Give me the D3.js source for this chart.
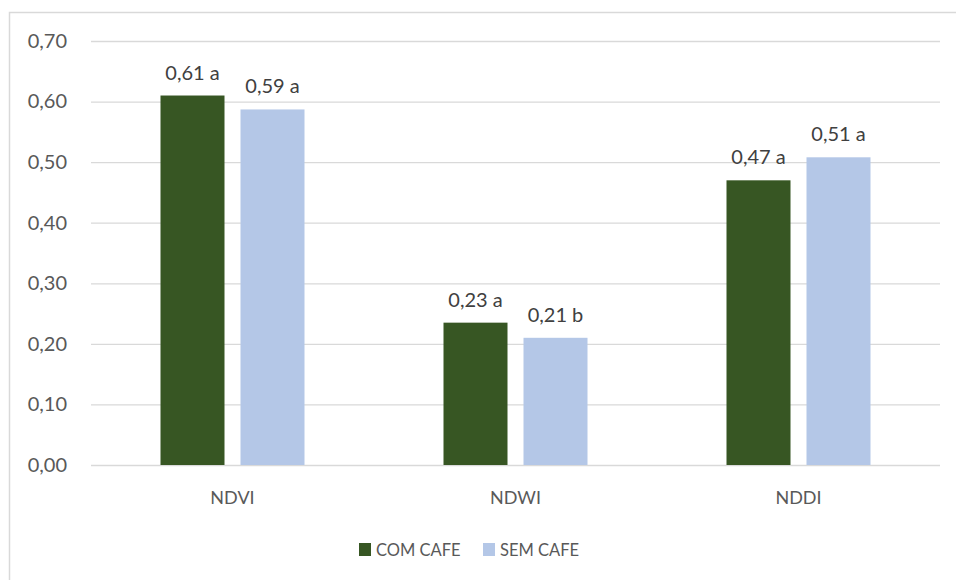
<!DOCTYPE html>
<html lang="pt">
<head>
    <meta charset="UTF-8">
    <title>Indices</title>
    <style>
        body { margin: 0; background: #fff; }
        text { font-family: Lato, "Open Sans", sans-serif; }
    </style>
</head>
<body>
    <script src="https://d3js.org/d3.v7.min.js"></script>
    <script>
        const width = 956;
        const height = 580;

        const categories = ["NDVI", "NDWI", "NDDI"];
        const seriesNames = ["COM CAFE", "SEM CAFE"];
        const comCafe = [0.61, 0.235, 0.47];
        const semCafe = [0.587, 0.21, 0.508];
        const comLabels = ["0,61 a", "0,23 a", "0,47 a"];
        const semLabels = ["0,59 a", "0,21 b", "0,51 a"];
        const yTicks = [0, 0.1, 0.2, 0.3, 0.4, 0.5, 0.6, 0.7];
        const colors = ["#375623", "#B4C7E7"];

        const margin = {top: 41, right: 16, bottom: 115, left: 91};

        const svg = d3.select("body")
            .append("svg")
            .attr("width", width)
            .attr("height", height);

        // chart frame
        svg.append("rect")
            .attr("x", 9.5)
            .attr("y", 12.5)
            .attr("width", width + 10)
            .attr("height", height + 10)
            .attr("fill", "none")
            .attr("stroke", "#D9D9D9")
            .attr("stroke-width", 1.5);

        const x0 = d3.scaleBand()
            .domain(categories)
            .range([margin.left, width - margin.right]);

        const x1 = d3.scaleBand()
            .domain(seriesNames)
            .range([0, 144])
            .paddingInner(0.2);

        const y = d3.scaleLinear()
            .domain([0, 0.7])
            .range([height - margin.bottom, margin.top]);

        const yAxis = d3.axisLeft(y)
            .tickValues(yTicks)
            .tickSize(-(width - margin.right - margin.left))
            .tickFormat(d => d3.format(".2f")(d).replace(".", ","));

        const gy = svg.append("g")
            .attr("transform", "translate(" + margin.left + ",0)")
            .call(yAxis);
        gy.select(".domain").remove();
        gy.selectAll(".tick line")
            .attr("stroke", "#D9D9D9")
            .attr("stroke-width", 1.3);
        gy.selectAll(".tick text")
            .attr("x", -24)
            .attr("fill", "#595959")
            .style("font-size", "20px");

        const rows = categories.map((c, i) => ({
            cat: c,
            vals: [
                {s: seriesNames[0], v: comCafe[i], lab: comLabels[i]},
                {s: seriesNames[1], v: semCafe[i], lab: semLabels[i]}
            ]
        }));

        const groups = svg.append("g")
            .selectAll("g")
            .data(rows)
            .enter()
            .append("g")
            .attr("transform", d => "translate(" + (x0(d.cat) + (x0.bandwidth() - 144) / 2) + ",0)");

        groups.selectAll("rect")
            .data(d => d.vals)
            .enter()
            .append("rect")
            .attr("x", d => x1(d.s))
            .attr("width", x1.bandwidth())
            .attr("y", d => y(d.v))
            .attr("height", d => y(0) - y(d.v))
            .attr("fill", (d, i) => colors[i]);

        groups.selectAll("text")
            .data(d => d.vals)
            .enter()
            .append("text")
            .attr("x", d => x1(d.s) + x1.bandwidth() / 2)
            .attr("y", d => y(d.v) - 16)
            .attr("text-anchor", "middle")
            .attr("fill", "#404040")
            .style("font-size", "20px")
            .text(d => d.lab);

        // category labels
        svg.append("g")
            .selectAll("text")
            .data(categories)
            .enter()
            .append("text")
            .attr("x", d => x0(d) + x0.bandwidth() / 2)
            .attr("y", 504)
            .attr("text-anchor", "middle")
            .attr("fill", "#595959")
            .style("font-size", "18px")
            .text(d => d);

        // legend
        const legendX = [359, 483];
        const legend = svg.append("g")
            .selectAll("g")
            .data(seriesNames)
            .enter()
            .append("g")
            .attr("transform", (d, i) => "translate(" + legendX[i] + ",543)");
        legend.append("rect")
            .attr("width", 12)
            .attr("height", 13)
            .attr("fill", (d, i) => colors[i]);
        legend.append("text")
            .attr("x", 17)
            .attr("y", 13)
            .attr("fill", "#595959")
            .style("font-size", "16.5px")
            .text(d => d);
    </script>
</body>
</html>
